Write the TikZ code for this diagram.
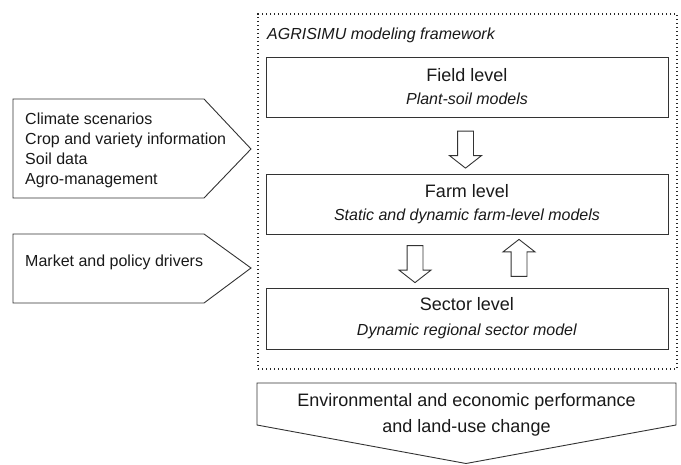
\documentclass[tikz,border=0pt]{standalone}
\usepackage{fontspec}
\setmainfont{Liberation Sans}
\usetikzlibrary{shapes.arrows,calc}

\begin{document}
\begin{tikzpicture}[x=1pt,y=-1pt,
  every node/.style={text=black!90},
  outline/.style={draw=black!80,line width=0.9pt},
  levelbox/.style={outline,shape=rectangle,minimum width=402pt,minimum height=60pt,align=center,inner sep=0pt,font=\fontsize{16}{20}\selectfont},
  fatarrow/.style={outline,shape=single arrow,minimum height=37pt,inner xsep=0pt,inner ysep=7.5pt,single arrow head extend=8pt,single arrow head indent=0pt,single arrow tip angle=104},
  small/.style={font=\fontsize{16}{20}\selectfont},
  big/.style={font=\fontsize{18}{26}\selectfont}]
\useasboundingbox (0,0) rectangle (681,464);

\node (frame) [draw=black!85,line width=1.3pt,dash pattern=on 1.3pt off 2.7pt,minimum width=419pt,minimum height=355pt,inner sep=0pt] at (467.5,191.5) {};
\node (title) [anchor=west,inner sep=0pt,font=\fontsize{16}{20}\selectfont\itshape] at (267,35) {AGRISIMU modeling framework};

\node (field) [levelbox] at (467,87) {{\fontsize{18}{22}\selectfont Field level}\\[3pt] \textit{Plant-soil models}};
\node (farm) [levelbox] at (467,204) {{\fontsize{18}{22}\selectfont Farm level}\\[3pt] \textit{Static and dynamic farm-level models}};
\node (sector) [levelbox,minimum height=61pt] at (467,318.5) {{\fontsize{18}{22}\selectfont Sector level}\\[5pt] \textit{Dynamic regional sector model}};

\node (fieldarrow) [fatarrow,rotate=-90] at ($(field.south)!0.5!(farm.north)+(-1.5,1)$) {};
\node (downarrow) [fatarrow,rotate=-90] at ($(farm.south)!0.5!(sector.north)+(-52,0)$) {};
\node (uparrow) [fatarrow,rotate=90] at ($(farm.south)!0.5!(sector.north)+(52,0)$) {};

\draw[outline] (13,99) -- (204,99) -- (251,149) -- (204,198) -- (13,198) -- cycle;
\node (inputs) [anchor=west,align=left,inner sep=0pt,small] at (25,150) {Climate scenarios\\Crop and variety information\\Soil data\\Agro-management};

\draw[outline] (13,234) -- (204,234) -- (251,268) -- (204,303) -- (13,303) -- cycle;
\node (drivers) [anchor=west,inner sep=0pt,small] at (25,262) {Market and policy drivers};

\draw[outline] (257,383) -- (676,383) -- (676,425) -- (466,463.5) -- (257,425) -- cycle;
\node (outcome) [align=center,inner sep=0pt,big] at (466.5,415) {Environmental and economic performance\\and land-use change};

\end{tikzpicture}
\end{document}
